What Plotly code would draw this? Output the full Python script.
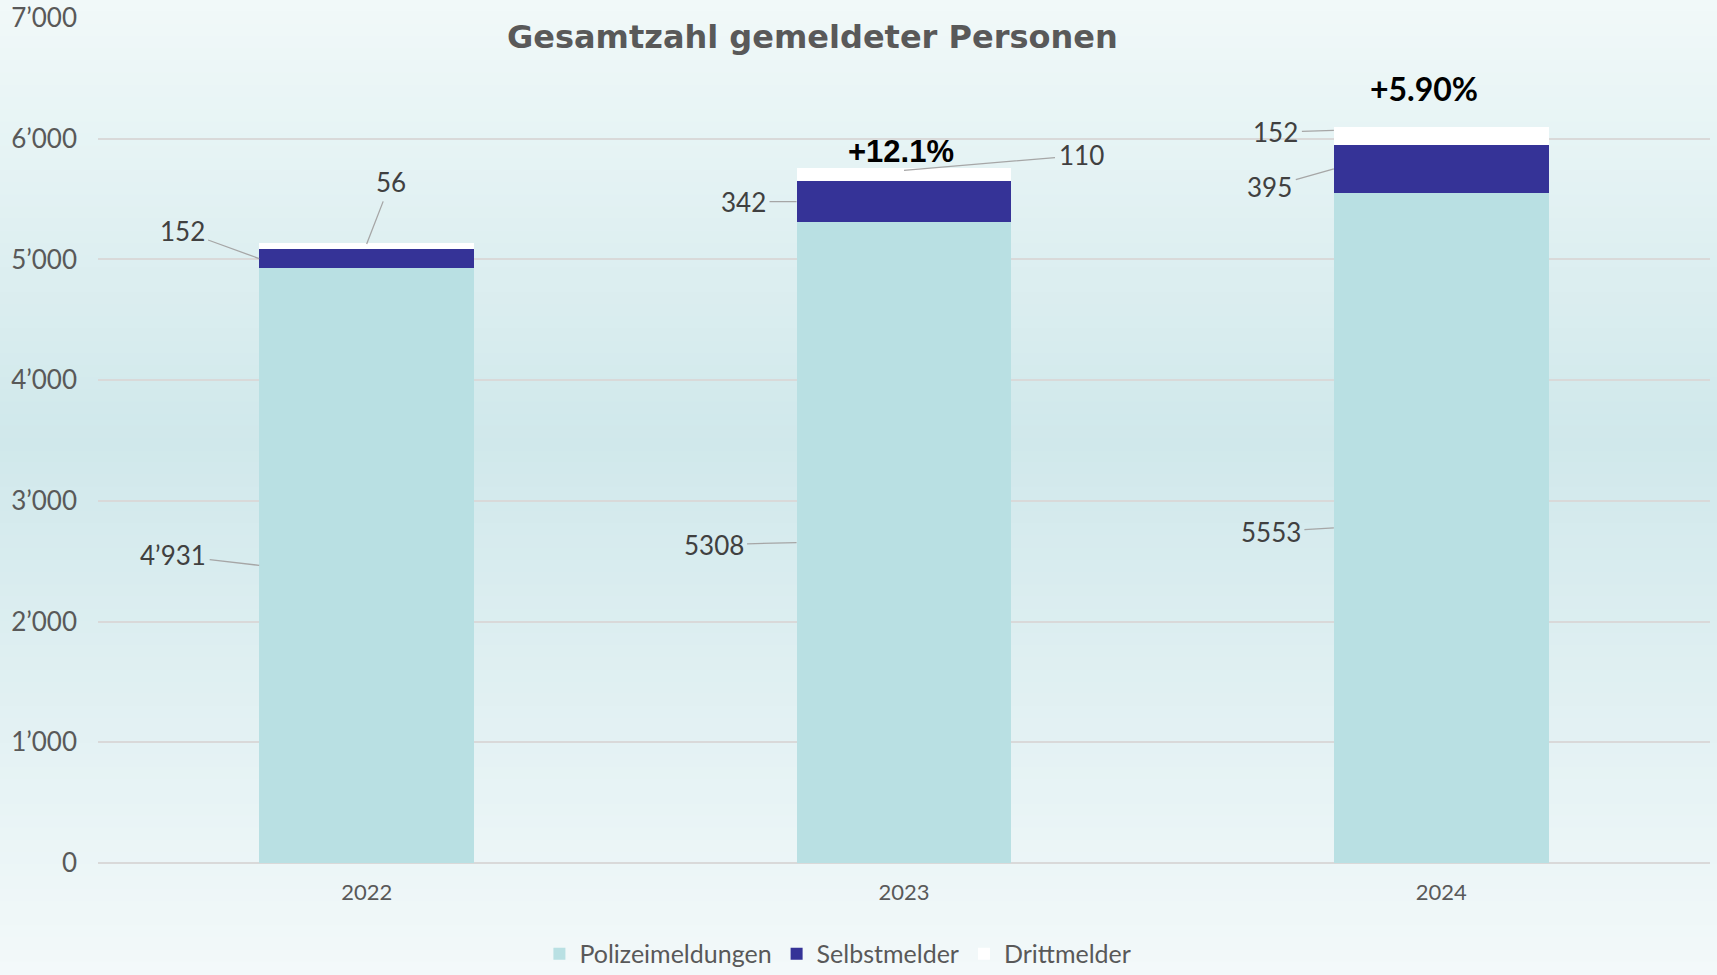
import plotly.graph_objects as go

# ---------------- data ----------------
years = ["2022", "2023", "2024"]
polizeimeldungen = [4931, 5308, 5553]
selbstmelder = [152, 342, 395]
drittmelder = [56, 110, 152]
series_names = ["Polizeimeldungen", "Selbstmelder", "Drittmelder"]
y_ticks = [0, 1000, 2000, 3000, 4000, 5000, 6000, 7000]
title_text = "Gesamtzahl gemeldeter Personen"
use_thousands_sep = [True, False, False]   # how Polizeimeldungen labels are written
pct_decimals = [1, 2]                      # decimals of the growth labels (2023, 2024)

# ---------------- styles ----------------
W, H = 1717, 975
L, R, T, B = 97.5, 6.5, 17.5, 112
col_pol = "#b9e0e3"
col_self = "#353397"
col_dritt = "#ffffff"
grid_col = "#d9d9d9"
txt_col = "#595959"
lab_col = "#404040"
lead_col = "#a6a6a6"
FONT = "Lato"

x = list(range(len(years)))
totals = [p + s + d for p, s, d in zip(polizeimeldungen, selbstmelder, drittmelder)]

fig = go.Figure()
fig.add_bar(x=x, y=polizeimeldungen, name=series_names[0], marker_color=col_pol,
            marker_line_width=0, width=0.4)
fig.add_bar(x=x, y=selbstmelder, name=series_names[1], marker_color=col_self,
            marker_line_width=0, width=0.4)
fig.add_bar(x=x, y=drittmelder, name=series_names[2], marker_color=col_dritt,
            marker_line_width=0, width=0.4)

# ---------------- background gradient ----------------
ph = H - T - B
def py2paper(py):
    return (H - B - py) / ph

def mix(c1, c2, t):
    return tuple(round(a + (b - a) * t) for a, b in zip(c1, c2))

top_c = (241, 249, 249)
mid_c = (208, 232, 235)
bot_c = (243, 249, 250)
peak = 440
n = 80
shapes = []
for k in range(n):
    y0p = H * k / n
    y1p = H * (k + 1) / n
    yc = (y0p + y1p) / 2
    if yc < peak:
        c = mix(top_c, mid_c, yc / peak)
    else:
        c = mix(mid_c, bot_c, (yc - peak) / (H - peak))
    shapes.append(dict(type="rect", xref="paper", yref="paper",
                       x0=-0.1, x1=1.1, y0=py2paper(y1p + 1), y1=py2paper(y0p - 1),
                       fillcolor="rgb(%d,%d,%d)" % c, line_width=0, layer="below"))

# ---------------- labels ----------------
ann = []
lab_font = dict(family=FONT, size=26, color=lab_col)

def lab(xv, yv, text, ax, ay):
    ann.append(dict(x=xv, y=yv, xref="x", yref="y", text=text, showarrow=True,
                    arrowhead=0, arrowwidth=1.3, arrowcolor=lead_col, ax=ax, ay=ay,
                    standoff=0, startstandoff=2, font=lab_font))

def fmt(v, sep):
    return f"{v:,}".replace(",", "’") if sep else str(v)

pol_offsets = [(-86, -10), (-83, 2), (-63, 4)]
self_offsets = [(-77, -28), (-53, 0), (-64, 18)]
dritt_offsets = [(24, -62), (177, -15), (-58, 2)]
dritt_anchor_dx = [0.0, 0.0, -0.2]
for i in x:
    p, s, d = polizeimeldungen[i], selbstmelder[i], drittmelder[i]
    lab(i - 0.2, p / 2, fmt(p, use_thousands_sep[i]), *pol_offsets[i])
    lab(i - 0.2, p + s / 2, str(s), *self_offsets[i])
    lab(i + dritt_anchor_dx[i], p + s + d * 0.8, str(d), *dritt_offsets[i])

pct_shift = [(-3, 16), (-17, 38)]
pct_fonts = [("Liberation Sans", 31), (FONT, 32)]
for j in range(1, len(years)):
    g = (totals[j] / totals[j - 1] - 1) * 100
    ann.append(dict(x=j, y=totals[j], xref="x", yref="y", showarrow=False,
                    text=f"<b>+{g:.{pct_decimals[j-1]}f}%</b>",
                    xshift=pct_shift[j - 1][0], yshift=pct_shift[j - 1][1],
                    yanchor="middle",
                    font=dict(family=pct_fonts[j - 1][0], size=pct_fonts[j - 1][1],
                              color="#000000")))

ann.append(dict(x=(812 - L) / (W - L - R), y=py2paper(37), xref="paper", yref="paper",
                xanchor="center", yanchor="middle",
                text=f"<b>{title_text}</b>", showarrow=False,
                font=dict(family="DejaVu Sans", size=32, color=txt_col)))

fig.update_layout(
    width=W, height=H,
    margin=dict(l=L, r=R, t=T, b=B, pad=0, autoexpand=False),
    paper_bgcolor="rgb(240,248,248)",
    plot_bgcolor="rgba(0,0,0,0)",
    separators=".’",
    barmode="stack",
    shapes=shapes,
    annotations=ann,
    showlegend=True,
    legend=dict(orientation="h", x=0.459, xanchor="center", y=py2paper(954), yanchor="middle",
                font=dict(family=FONT, size=25, color=txt_col), bgcolor="rgba(0,0,0,0)",
                itemwidth=30, traceorder="normal"),
    xaxis=dict(range=[-0.5, 2.5], tickvals=x, ticktext=years, showgrid=False,
               zeroline=False, showline=False, ticks="", ticklabelstandoff=14,
               tickfont=dict(family=FONT, size=22, color=txt_col), fixedrange=True),
    yaxis=dict(range=[0, 7000], tickvals=y_ticks, tickformat=",d", showgrid=True,
               gridcolor=grid_col, gridwidth=1.5, zeroline=True, zerolinecolor=grid_col,
               zerolinewidth=1.5, showline=False, ticks="", ticklabelstandoff=20,
               tickfont=dict(family=FONT, size=26, color=txt_col), fixedrange=True),
)

fig.write_html("out.html", config={"displayModeBar": False},
               post_script="document.body.style.margin='0';document.body.style.overflow='hidden';")
